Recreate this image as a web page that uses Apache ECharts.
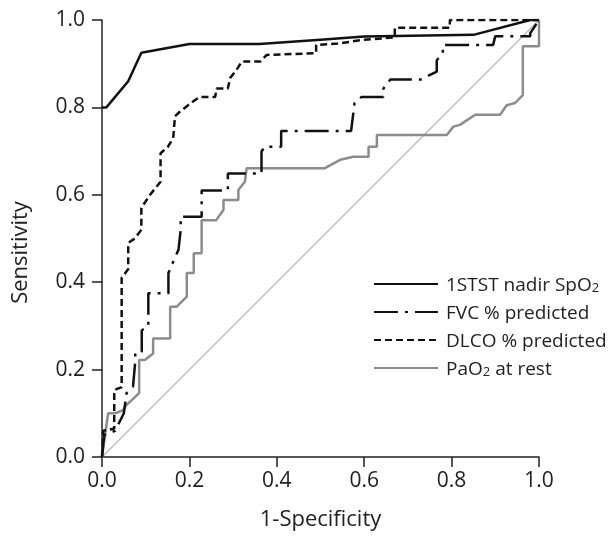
<!DOCTYPE html>
<html>
<head>
<meta charset="utf-8">
<script src="https://cdn.jsdelivr.net/npm/echarts@6/dist/echarts.min.js"></script>
<style>
    html, body { margin: 0; padding: 0; background: #fff; }
    #roc-chart { width: 615px; height: 537px; }
</style>
</head>
<body>
<div id="roc-chart"></div>
<script>
const SERIES_NAMES = ['1STST nadir SpO2', 'FVC % predicted', 'DLCO % predicted', 'PaO2 at rest'];
const TICK_VALUES = [0.0, 0.2, 0.4, 0.6, 0.8, 1.0];

// [1-specificity, sensitivity]
const spo2_points = [
    [0, 0.80], [0.01, 0.80], [0.06, 0.86], [0.09, 0.925], [0.2, 0.945], [0.36, 0.945],
    [0.5, 0.955], [0.6, 0.962], [0.85, 0.966], [0.98, 1.0], [1, 1]
];
const fvc_points = [
    [0, 0], [0.005, 0.05], [0.03, 0.06], [0.05, 0.1], [0.056, 0.146], [0.071, 0.161],
    [0.076, 0.218], [0.076, 0.238], [0.091, 0.241], [0.091, 0.29], [0.106, 0.298],
    [0.106, 0.375], [0.152, 0.375], [0.152, 0.421], [0.163, 0.447], [0.175, 0.474],
    [0.18, 0.519], [0.18, 0.55], [0.228, 0.55], [0.228, 0.61], [0.288, 0.61],
    [0.288, 0.649], [0.365, 0.649], [0.365, 0.699], [0.372, 0.71], [0.41, 0.71],
    [0.41, 0.746], [0.57, 0.746], [0.578, 0.81], [0.594, 0.824], [0.644, 0.824],
    [0.644, 0.843], [0.66, 0.864], [0.73, 0.864], [0.766, 0.882], [0.766, 0.908],
    [0.78, 0.924], [0.78, 0.943], [0.895, 0.943], [0.9, 0.963], [0.98, 0.963],
    [0.98, 0.97], [1, 1]
];
const dlco_points = [
    [0, 0], [0.003, 0.06], [0.028, 0.065], [0.028, 0.153], [0.045, 0.16], [0.045, 0.41],
    [0.06, 0.43], [0.06, 0.49], [0.075, 0.5], [0.09, 0.52], [0.09, 0.57], [0.11, 0.6],
    [0.134, 0.63], [0.134, 0.695], [0.151, 0.71], [0.163, 0.73], [0.167, 0.78],
    [0.178, 0.79], [0.197, 0.805], [0.213, 0.817], [0.224, 0.824], [0.259, 0.824],
    [0.262, 0.843], [0.288, 0.843], [0.293, 0.867], [0.308, 0.886], [0.32, 0.905],
    [0.362, 0.905], [0.377, 0.92], [0.49, 0.924], [0.49, 0.943], [0.54, 0.946],
    [0.6, 0.955], [0.67, 0.96], [0.67, 0.982], [0.796, 0.982], [0.796, 1.0], [1, 1]
];
const pao2_points = [
    [0, 0], [0.014, 0.1], [0.03, 0.1], [0.048, 0.107], [0.056, 0.119], [0.068, 0.13],
    [0.085, 0.146], [0.085, 0.222], [0.098, 0.222], [0.117, 0.237], [0.117, 0.271],
    [0.156, 0.271], [0.156, 0.344], [0.171, 0.344], [0.194, 0.367], [0.194, 0.421],
    [0.21, 0.421], [0.21, 0.466], [0.228, 0.466], [0.228, 0.542], [0.261, 0.542],
    [0.278, 0.565], [0.278, 0.588], [0.312, 0.588], [0.312, 0.611], [0.327, 0.63],
    [0.331, 0.661], [0.51, 0.661], [0.545, 0.68], [0.575, 0.687], [0.61, 0.687],
    [0.61, 0.71], [0.629, 0.71], [0.629, 0.737], [0.789, 0.737], [0.804, 0.756],
    [0.819, 0.76], [0.854, 0.783], [0.911, 0.783], [0.926, 0.805], [0.945, 0.81],
    [0.963, 0.828], [0.963, 0.94], [1, 0.94], [1, 1]
];
const reference_points = [[0, 0], [1, 1]];

const FONT = '"Open Sans", "DejaVu Sans", sans-serif';
const TEXT_COLOR = '#222';

let roc_chart = echarts.init(document.getElementById('roc-chart'));

function axisOptions(name, nameGap, labelMargin, namePadding) {
    return {
        type: 'value',
        min: 0,
        max: 1,
        interval: 0.2,
        name: name,
        nameLocation: 'middle',
        nameGap: nameGap,
        nameTextStyle: { color: TEXT_COLOR, fontFamily: FONT, fontSize: 22, padding: namePadding },
        splitLine: { show: false },
        axisLine: { lineStyle: { color: '#222', width: 1.5 } },
        axisTick: { show: true, inside: false, length: 10, lineStyle: { color: '#222', width: 1.5 } },
        axisLabel: {
            color: TEXT_COLOR,
            fontFamily: FONT,
            fontSize: 21,
            margin: labelMargin,
            formatter: function (v) {
                let idx = TICK_VALUES.findIndex(t => Math.abs(t - v) < 1e-6);
                return idx >= 0 ? TICK_VALUES[idx].toFixed(1) : '';
            }
        }
    };
}

let option = {
    animation: false,
    grid: { left: 102, right: 76, top: 20, bottom: 80, containLabel: false },
    legend: {
        orient: 'vertical',
        left: 368,
        top: 271,
        itemWidth: 64,
        itemHeight: 14,
        itemGap: 9,
        itemStyle: { opacity: 0 },
        data: SERIES_NAMES,
        formatter: function (name) {
            if (name === SERIES_NAMES[0]) return '{a|1STST nadir SpO}{s|2}';
            if (name === SERIES_NAMES[3]) return '{a|PaO}{s|2}{a| at rest}';
            return '{a|' + name + '}';
        },
        textStyle: {
            color: TEXT_COLOR,
            fontFamily: FONT,
            padding: [0, 0, 0, 3],
            rich: {
                a: { fontFamily: FONT, fontSize: 19, lineHeight: 22, color: TEXT_COLOR, verticalAlign: 'bottom' },
                s: { fontFamily: FONT, fontSize: 13, lineHeight: 14, color: TEXT_COLOR, verticalAlign: 'bottom' }
            }
        }
    },
    xAxis: axisOptions('1-Specificity', 52, 14, [0, 0, 0, 0]),
    yAxis: axisOptions('Sensitivity', 70, 17, [0, 28, 0, 0]),
    series: [
        {
            name: 'reference',
            type: 'line',
            data: reference_points,
            symbol: 'none',
            silent: true,
            lineStyle: { color: '#b8b8b8', width: 1.2 },
            z: 1
        },
        {
            name: SERIES_NAMES[3],
            type: 'line',
            data: pao2_points,
            symbol: 'none',
            lineStyle: { color: '#8c8c8c', width: 2.5 },
            itemStyle: { color: '#8c8c8c' },
            z: 2
        },
        {
            name: SERIES_NAMES[2],
            type: 'line',
            data: dlco_points,
            symbol: 'none',
            lineStyle: { color: '#111', width: 2.5, type: [7, 4] },
            itemStyle: { color: '#111' },
            z: 3
        },
        {
            name: SERIES_NAMES[1],
            type: 'line',
            data: fvc_points,
            symbol: 'none',
            lineStyle: { color: '#111', width: 2.5, type: [24, 7, 3, 7] },
            itemStyle: { color: '#111' },
            z: 4
        },
        {
            name: SERIES_NAMES[0],
            type: 'line',
            data: spo2_points,
            symbol: 'none',
            lineStyle: { color: '#111', width: 2.5 },
            itemStyle: { color: '#111' },
            z: 5
        }
    ]
};
roc_chart.setOption(option);

window.addEventListener('resize', function () {
    roc_chart?.resize();
});
</script>
</body>
</html>
